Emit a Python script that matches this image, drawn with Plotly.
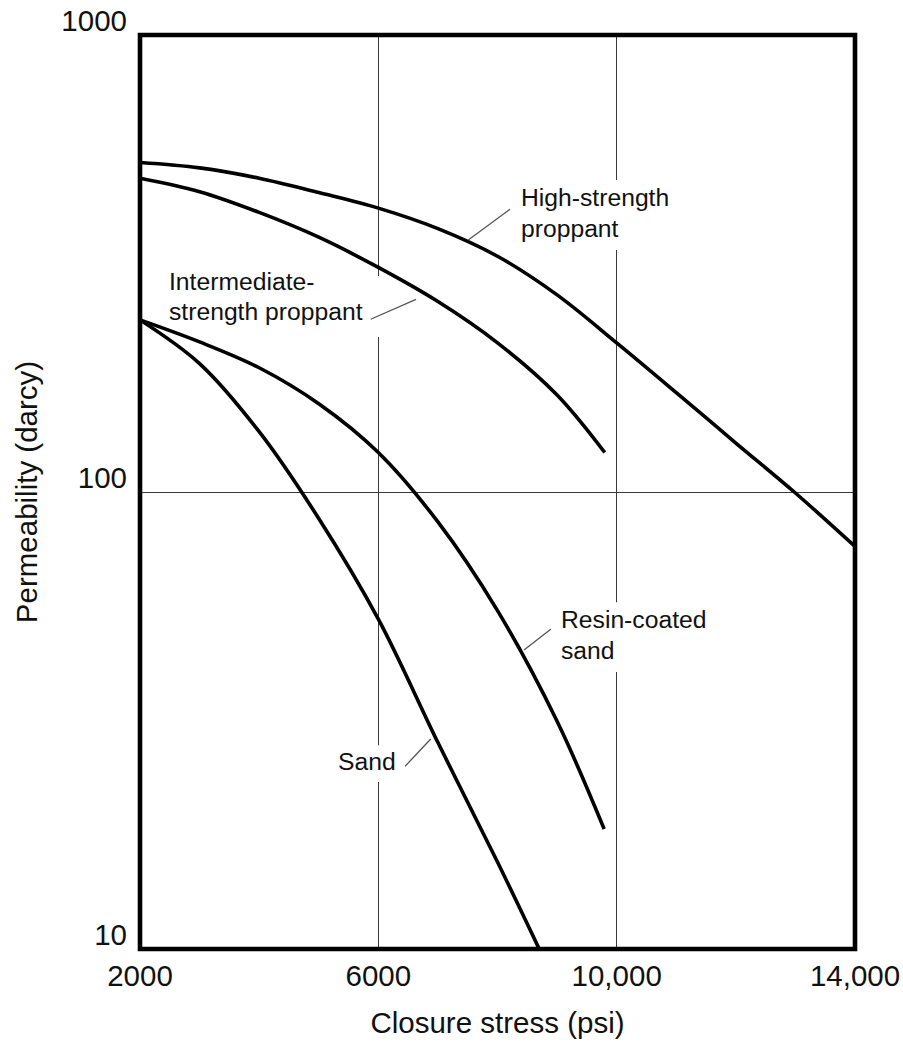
import plotly.graph_objects as go
import math

# ---------------- data ----------------
high_x = [2000, 3000, 4000, 5000, 6000, 7000, 8000, 9000, 10000, 11000, 12000, 13000, 14000]
high_y = [526, 512, 486, 452, 418, 377, 328, 270, 212, 165, 128, 99.5, 76]

inter_x = [2000, 3000, 4000, 5000, 6000, 7000, 8000, 9000, 9800]
inter_y = [486, 454, 409, 361, 310, 261, 212, 163, 122]

resin_x = [2000, 3000, 4000, 5000, 6000, 7000, 8000, 9000, 9790]
resin_y = [238, 213, 187, 156, 122, 86, 55, 31.5, 18.3]

sand_x = [2000, 3000, 4000, 5000, 6000, 7000, 8000, 8700]
sand_y = [238, 191, 135.5, 87.5, 52.7, 28.3, 15.5, 10]

x_ticks = [2000, 6000, 10000, 14000]
x_tick_text = ["2000", "6000", "10,000", "14,000"]
y_ticks = [10, 100, 1000]
y_tick_text = ["10", "100", "1000"]

# curve labels: (text lines, x of left edge, y of each line)
labels = [
    (["High-strength", "proppant"], 8389, [440, 378]),
    (["Intermediate-", "strength proppant"], 2492, [288.5, 248]),
    (["Resin-coated", "sand"], 9061, [52.5, 44.9]),
    (["Sand"], 5328, [25.7]),
]
# leader lines: (x0, y0, x1, y1)
leaders = [
    (7510, 356, 8210, 415.6),
    (5872, 238.8, 6632, 264),
    (8893, 50.1, 8445, 45.1),
    (6448, 25.1, 6879, 28.8),
]
# white label backgrounds (cut the grid lines): (x0, y0, x1, y1)
label_boxes = [
    (8294, 481.7, 10929, 338.4),
    (2420, 296.9, 6095, 218.4),
    (8982, 57.4, 11566, 40.4),
    (5239, 27.9, 6364, 23.2),
]

FONT = "Liberation Sans, Arial, sans-serif"
line_style = dict(color="black", width=3.6, shape="spline", smoothing=1.0)

fig = go.Figure()
for name, xs, ys in [
    ("High-strength proppant", high_x, high_y),
    ("Intermediate-strength proppant", inter_x, inter_y),
    ("Resin-coated sand", resin_x, resin_y),
    ("Sand", sand_x, sand_y),
]:
    fig.add_trace(go.Scatter(x=xs, y=ys, mode="lines", name=name,
                             line=line_style, showlegend=False, hoverinfo="skip"))

shapes = []
for (x0, y0, x1, y1) in label_boxes:
    shapes.append(dict(type="rect", xref="x", yref="y", x0=x0, x1=x1, y0=y0, y1=y1,
                       fillcolor="white", line=dict(width=0), layer="between"))
for (x0, y0, x1, y1) in leaders:
    shapes.append(dict(type="line", xref="x", yref="y", x0=x0, x1=x1, y0=y0, y1=y1,
                       line=dict(color="#555555", width=1.3), layer="above"))
shapes.append(dict(type="rect", xref="paper", yref="paper", x0=0, x1=1, y0=0, y1=1,
                   line=dict(color="black", width=4.6), fillcolor="rgba(0,0,0,0)",
                   layer="above"))

annotations = []
for lines, lx, ly in labels:
    for t, yv in zip(lines, ly):
        annotations.append(dict(text=t, x=lx, y=math.log10(yv), xref="x", yref="y",
                                xanchor="left", yanchor="middle", showarrow=False,
                                font=dict(family=FONT, size=24.7, color="#111111"),
                                borderpad=0, borderwidth=0))

fig.update_layout(
    width=903, height=1046,
    margin=dict(l=140, r=48, t=35, b=97, autoexpand=False),
    paper_bgcolor="white", plot_bgcolor="white",
    font=dict(family=FONT, size=29.5, color="#111111"),
    shapes=shapes, annotations=annotations,
    xaxis=dict(range=[2000, 14000], tickvals=x_ticks, ticktext=x_tick_text,
               showgrid=True, gridcolor="#3a3a3a", gridwidth=1, zeroline=False,
               showline=False, ticks="", ticklabelstandoff=6, automargin=False,
               ticklabeloverflow="allow",
               title=dict(text="Closure stress (psi)", standoff=21,
                          font=dict(family=FONT, size=29.5))),
    yaxis=dict(type="log", range=[1, 3], tickvals=y_ticks, ticktext=y_tick_text,
               showgrid=True, gridcolor="#3a3a3a", gridwidth=1, zeroline=False,
               showline=False, ticks="", ticklabelposition="outside top",
               ticklabelshift=6,
               ticklabelstandoff=12, automargin=False, ticklabeloverflow="allow",
               title=dict(text="Permeability (darcy)", standoff=15,
                          font=dict(family=FONT, size=29.5))),
)

fig.write_html("out.html", config={"displayModeBar": False},
               post_script="document.body.style.margin='0px';")
